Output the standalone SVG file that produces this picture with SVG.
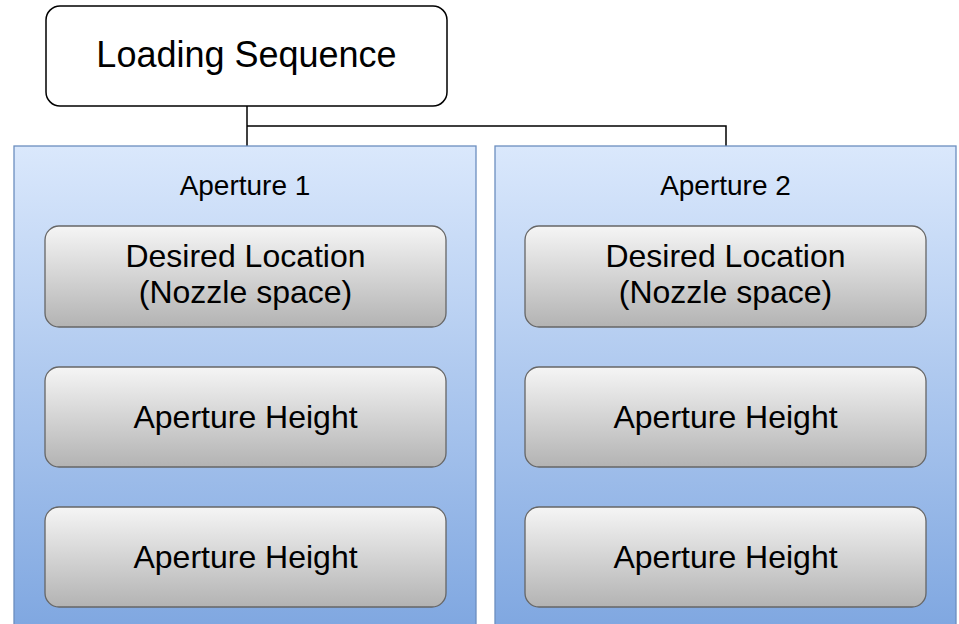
<svg xmlns="http://www.w3.org/2000/svg" width="959" height="624" viewBox="0 0 959 624">
<defs>
<linearGradient id="gBlue" x1="0" y1="0" x2="0" y2="1">
<stop offset="0" stop-color="#dae8fc"/>
<stop offset="1" stop-color="#7ea6e0"/>
</linearGradient>
<linearGradient id="gGray" x1="0" y1="0" x2="0" y2="1">
<stop offset="0" stop-color="#f5f5f5"/>
<stop offset="1" stop-color="#b3b3b3"/>
</linearGradient>
<style>
text{font-family:"Liberation Sans",Arial,sans-serif;fill:#000;text-anchor:middle}
.cont{fill:url(#gBlue);stroke:#6c8ebf;stroke-width:1.3}
.item{fill:url(#gGray);stroke:#666;stroke-width:1.3}
.top{fill:#fff;stroke:#000;stroke-width:1.5}
.conn{fill:none;stroke:#000;stroke-width:1.5}
.t1{font-size:36px}
.t2{font-size:28px}
.t3{font-size:32px}
</style>
</defs>
<g id="connectors">
<path class="conn" d="M247 106 V146"/>
<path class="conn" d="M247 126 H726 V146"/>
</g>
<g id="loading-sequence">
<rect class="top" x="46" y="6" width="401" height="100" rx="14"/>
<text class="t1" x="246.5" y="67">Loading Sequence</text>
</g>
<g id="aperture-1">
<rect class="cont" x="14" y="146" width="462" height="490"/>
<text class="t2" x="245" y="195">Aperture 1</text>
</g>
<g id="a1-desired-location">
<rect class="item" x="45" y="226" width="401" height="101" rx="14"/>
<text class="t3" x="245.5" y="267">Desired Location</text>
<text class="t3" x="245.5" y="303">(Nozzle space)</text>
</g>
<g id="a1-aperture-height-1">
<rect class="item" x="45" y="367" width="401" height="100" rx="14"/>
<text class="t3" x="245.5" y="428">Aperture Height</text>
</g>
<g id="a1-aperture-height-2">
<rect class="item" x="45" y="507" width="401" height="100" rx="14"/>
<text class="t3" x="245.5" y="568">Aperture Height</text>
</g>
<g id="aperture-2">
<rect class="cont" x="495" y="146" width="461" height="490"/>
<text class="t2" x="725.5" y="195">Aperture 2</text>
</g>
<g id="a2-desired-location">
<rect class="item" x="525" y="226" width="401" height="101" rx="14"/>
<text class="t3" x="725.5" y="267">Desired Location</text>
<text class="t3" x="725.5" y="303">(Nozzle space)</text>
</g>
<g id="a2-aperture-height-1">
<rect class="item" x="525" y="367" width="401" height="100" rx="14"/>
<text class="t3" x="725.5" y="428">Aperture Height</text>
</g>
<g id="a2-aperture-height-2">
<rect class="item" x="525" y="507" width="401" height="100" rx="14"/>
<text class="t3" x="725.5" y="568">Aperture Height</text>
</g>
</svg>
